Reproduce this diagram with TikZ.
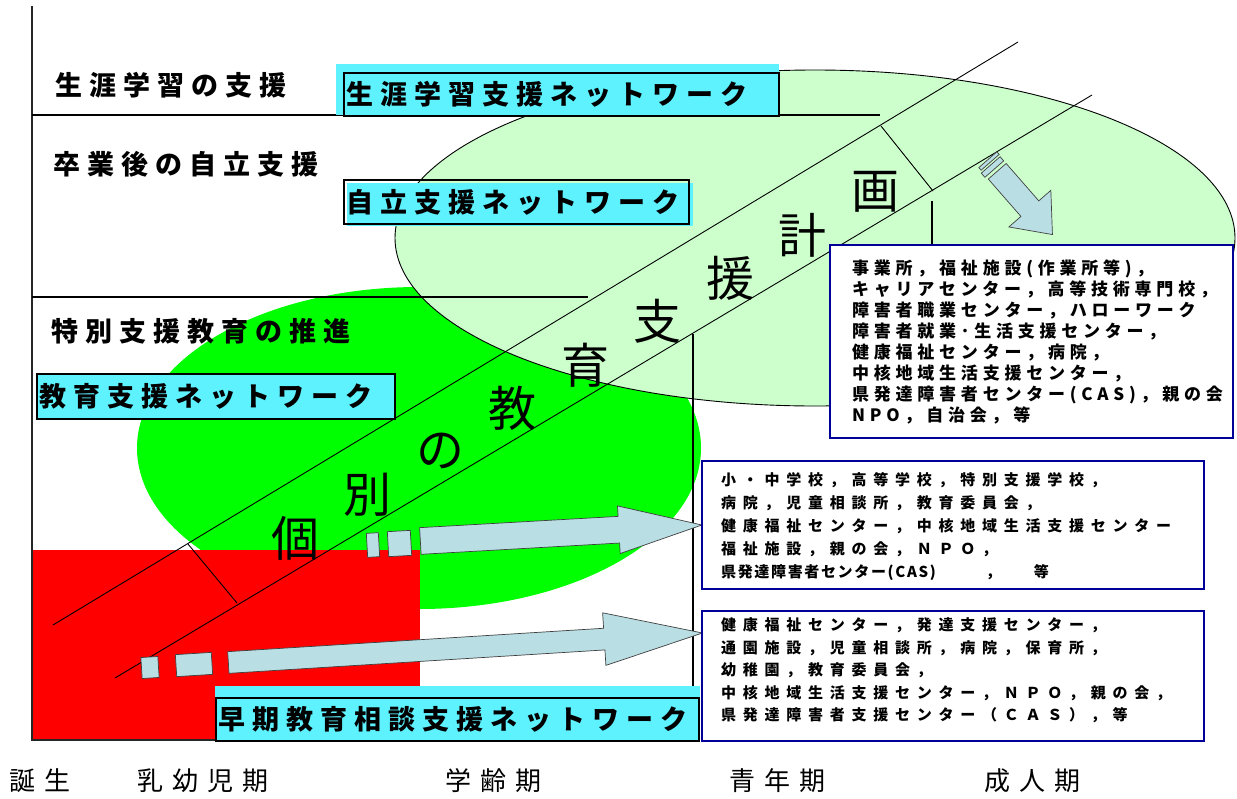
\documentclass[tikz,border=0pt]{standalone}
\usepackage{fontspec}
\usetikzlibrary{shapes.arrows}
\newfontfamily\jp{Noto Sans CJK JP}
\newfontfamily\jplabel{Noto Sans CJK JP}[LetterSpace=26]
\newfontfamily\jpstage{Noto Sans CJK JP}[LetterSpace=35]
\newfontfamily\jpinfo{Noto Sans CJK JP}[LetterSpace=45]
\newfontfamily\jpinfoA{Noto Sans CJK JP}[LetterSpace=28]
\newfontfamily\jptight{Noto Sans CJK JP}[LetterSpace=11]
\definecolor{netcyan}{RGB}{94,242,255}
\definecolor{palegreen}{RGB}{204,255,204}
\definecolor{brightgreen}{RGB}{0,255,0}
\definecolor{arrowblue}{RGB}{185,222,228}
\definecolor{boxnavy}{RGB}{0,0,153}
\tikzset{
  stage/.style={font=\jplabel\bfseries\fontsize{27}{32}\selectfont, anchor=west, inner sep=0pt},
  network/.style={draw=black, line width=2.2pt, anchor=north west, inner xsep=2pt, inner ysep=0pt,
    align=left, font=\jplabel\bfseries\fontsize{27}{32}\selectfont},
  period/.style={font=\jpstage\fontsize{26}{30}\selectfont, anchor=west, inner sep=0pt},
  infobox/.style={draw=boxnavy, line width=2pt, fill=white, anchor=north west, inner sep=0pt},
  infotext/.style={anchor=north west, inner sep=0pt, align=left},
  plan/.style={font=\jp\fontsize{48}{48}\selectfont, inner sep=0pt},
  fatarrow/.style={single arrow, draw=black!75, fill=arrowblue, line width=0.7pt, inner xsep=0pt, anchor=tail},
  piece/.style={rectangle, draw=black!75, fill=arrowblue, line width=0.7pt, inner sep=0pt},
  thin/.style={line width=0.9pt},
  bold/.style={line width=2pt}
}
\begin{document}
\begin{tikzpicture}[x=1pt,y=-1pt]
\useasboundingbox (0,0) rectangle (1237,798);
% support fields
\fill[brightgreen] (419,448) ellipse [x radius=282, y radius=161];
\draw[thin, fill=palegreen] (815,238) ellipse [x radius=420, y radius=168];
\fill[red] (32,550) rectangle (420,740);

% axes and sections
\coordinate (top) at (32,6);
\coordinate (origin) at (32,740);
\coordinate (right) at (700,740);
\draw[bold, black!85] (top) -- (origin) -- (right);
\draw[bold] (32,115) -- (880,115);
\draw[bold] (32,297) -- (588,297);

% band of the plan
\coordinate (bandA0) at (53,625);
\coordinate (bandA1) at (1018,42);
\coordinate (bandB0) at (115,678);
\coordinate (bandB1) at (1092,95);
\draw[thin] (bandA0) -- (bandA1);
\draw[thin] (bandB0) -- (bandB1);
\draw[thin] (188,544) -- (237,603);
\draw[thin] (881,126) -- (933,191);
\draw[bold] (693,334) -- (693,740);
\draw[bold] (932,201) -- (932,244);

% networks
\fill[netcyan] (336,64) rectangle (779,115);
\node[network, text width=431pt, minimum height=43pt] (lifeNet) at (343,72) {生涯学習支援ネットワーク};
\fill[netcyan] (347,183) rectangle (693,226);
\node[network, text width=341pt, minimum height=44pt] (selfNet) at (343,179) {自立支援ネットワーク};
\node[network, fill=netcyan, text width=354pt, minimum height=45pt] (eduNet) at (36,373) {教育支援ネットワーク};
\fill[netcyan] (215,686) rectangle (700,740);
\node[network, text width=479pt, minimum height=43pt] (earlyNet) at (215,697) {早期教育相談支援ネットワーク};

% stages
\node[stage] (lifeLbl) at (55,85) {生涯学習の支援};
\node[stage] (selfLbl) at (53,164) {卒業後の自立支援};
\node[stage] (eduLbl) at (51,331) {特別支援教育の推進};

\node[period] (birth) at (9,781) {誕生};
\node[period] (infant) at (137,781) {乳幼児期};
\node[period] (school) at (445,781) {学齢期};
\node[period] (youth) at (729,781) {青年期};
\node[period] (adult) at (984,781) {成人期};

\foreach \ch [count=\i from 0] in {個,別,の,教,育,支,援,計,画}
  \node[plan] (plan\i) at ({295+72.5*\i},{538-43.25*\i}) {\ch};

% arrows
\node[piece, minimum width=12pt, minimum height=24pt, rotate=3.25] (eduPiece1) at (373,545) {};
\node[piece, minimum width=23pt, minimum height=25pt, rotate=3.25] (eduPiece2) at (399.5,543.5) {};
\node[fatarrow, inner ysep=13pt, minimum height=282pt, single arrow head extend=10.5pt,
  single arrow tip angle=32, rotate=3.25] (eduArrow) at (420,541) {};
\node[piece, minimum width=17pt, minimum height=21pt, rotate=3.56] (earlyPiece1) at (150,667.5) {};
\node[piece, minimum width=36pt, minimum height=22pt, rotate=3.56] (earlyPiece2) at (194,664.5) {};
\node[fatarrow, inner ysep=10.5pt, minimum height=475pt, single arrow head extend=15.5pt,
  single arrow tip angle=30, rotate=3.56] (earlyArrow) at (228,662.5) {};
\node[piece, minimum width=3.5pt, minimum height=24pt, rotate=-48.9] (lifePiece1) at (989,161) {};
\node[piece, minimum width=5.5pt, minimum height=25pt, rotate=-48.9] (lifePiece2) at (992.5,167) {};
\node[fatarrow, inner ysep=11.5pt, minimum height=84pt, single arrow head extend=16pt,
  single arrow tip angle=78, rotate=-48.9] (lifeArrow) at (997,171) {};

% partners
\node[infobox, minimum width=403pt, minimum height=193pt] (workBox) at (829,244) {};
\node[infobox, minimum width=502pt, minimum height=128pt] (schoolBox) at (701,460) {};
\node[infobox, minimum width=502pt, minimum height=130pt] (earlyBox) at (701,610) {};

\node[infotext, font=\jpinfoA\bfseries\fontsize{17}{21}\selectfont] (workText) at (852,259.5) {%
  事業所，福祉施設(作業所等)，\\
  キャリアセンター，高等技術専門校，\\
  障害者職業センター，ハローワーク\\
  障害者就業･生活支援センター，\\
  健康福祉センター，病院，\\
  中核地域生活支援センター，\\
  県発達障害者センター(CAS)，親の会\\
  NPO，自治会，等};
\node[infotext, font=\jpinfo\bfseries\fontsize{15}{23}\selectfont] (schoolText) at (721,472.5) {%
  小・中学校，高等学校，特別支援学校，\\
  病院，児童相談所，教育委員会，\\
  健康福祉センター，中核地域生活支援センター\\
  福祉施設，親の会，ＮＰＯ，\\
  {\jptight\bfseries 県発達障害者センター(CAS)\hspace{50pt}，\hspace{33pt}等}};
\node[infotext, font=\jpinfo\bfseries\fontsize{15}{22.5}\selectfont] (earlyText) at (721,617.5) {%
  健康福祉センター，発達支援センター，\\
  通園施設，児童相談所，病院，保育所，\\
  幼稚園，教育委員会，\\
  中核地域生活支援センター，ＮＰＯ，親の会，\\
  県発達障害者支援センター（ＣＡＳ），等};
\end{tikzpicture}
\end{document}
